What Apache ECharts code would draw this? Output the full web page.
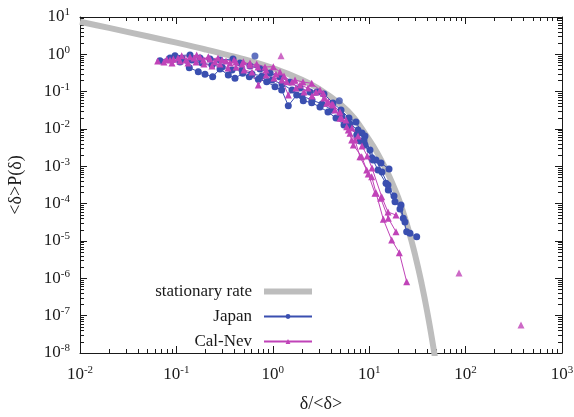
<!DOCTYPE html>
<html>
<head>
<meta charset="utf-8">
<script src="https://cdn.jsdelivr.net/npm/echarts@6/dist/echarts.min.js"></script>
<style>html,body{margin:0;padding:0;background:#fff}#c{width:574px;height:417px}</style>
</head>
<body>
<div id="c"></div>
<script>
// ---- data ----
const stationaryX = [0.01,0.02,0.05,0.1,0.2,0.5,1,2,3,5,7,10,12,15,17.5,20,22.5,25,27.5,30,32.5,35,37.5,40,42.5,45,47.5,50];
const stationaryY = [7.48,5.10,3.05,2.05,1.35,0.739,0.427,0.209,0.1198,0.0464,0.0195,0.0051,2.4e-3,8.0e-4,3.4e-4,1.45e-4,5.91e-5,2.42e-5,9.98e-6,4.13e-6,1.72e-6,7.16e-7,2.99e-7,1.25e-7,5.27e-8,2.22e-8,9.34e-9,3.94e-9];

const japanA = [[0.0676,0.675],[0.0967,0.919],[0.1384,0.959],[0.1757,0.797],[0.2232,0.750],[0.2833,0.705],[0.3865,0.750],[0.4567,0.586],[0.580,0.487],[0.736,0.405],[0.935,0.316],[1.187,0.247],[1.508,0.1815],[1.915,0.1253],[2.431,0.0979],[2.873,0.0979],[3.396,0.0866],[4.21,0.0497],[5.10,0.0323],[6.17,0.0197],[7.29,0.0154],[8.42,0.00781],[9.04,0.00649],[10.95,0.001477],[13.25,0.001227],[16.05,8.48e-4]];
const japanB = [[0.1135,0.783],[0.1361,0.438],[0.1687,0.3424],[0.1980,0.2917],[0.2379,0.2517],[0.2833,0.405],[0.3453,0.2795],[0.4053,0.2280],[0.4872,0.3102],[0.5705,0.2517],[0.707,0.2144],[0.864,0.1848],[1.054,0.1358],[1.236,0.1108],[1.448,0.0421],[1.769,0.0814],[2.071,0.0572],[2.532,0.0506],[3.086,0.0388],[3.737,0.0285],[4.524,0.0197],[5.476,0.0128],[6.32,0.0113],[7.42,0.0069],[8.02,0.00477],[9.04,0.00372],[10.69,0.00167],[12.34,7.97e-4],[14.94,3.51e-4],[15.78,2.32e-4],[18.52,1.13e-4],[21.37,9.2e-5],[22.58,4.05e-5],[24.48,1.77e-5],[26.5,1.61e-5],[31.1,1.30e-5]];
const japanC = [[0.0858,0.797],[0.109,0.623],[0.1451,0.705],[0.1842,0.586],[0.2339,0.518],[0.2972,0.4576],[0.3774,0.3803],[0.479,0.3803],[0.6085,0.2972],[0.7724,0.2628],[0.981,0.2053],[1.245,0.1604],[1.581,0.1108],[2.008,0.0765],[2.55,0.0598],[3.238,0.0467],[4.11,0.0323],[5.22,0.0223],[6.32,0.0136],[7.65,0.0094],[8.83,0.00507],[10.19,0.002736],[11.76,0.001477],[13.57,7.05e-4],[15.66,3.16e-4],[18.08,1.60e-4],[20.86,7.19e-5],[23.5,3.22e-5]];
const japanLoose = [[0.653,0.902],[4.90,0.0572]];

const calnevA = [[0.064,0.663],[0.0793,0.736],[0.0929,0.750],[0.1135,0.919],[0.1384,0.864],[0.1623,0.959],[0.1901,0.705],[0.2142,0.864],[0.2514,0.635],[0.2972,0.705],[0.3597,0.586],[0.4151,0.623],[0.4943,0.635],[0.580,0.518],[0.681,0.551],[0.830,0.4576],[1.012,0.4663],[1.187,0.3362],[1.394,0.1848],[1.699,0.2053],[2.057,0.1815],[2.532,0.1675],[3.086,0.1108],[3.622,0.0488],[4.24,0.0439],[4.98,0.01934],[5.84,0.01151],[6.32,0.00766],[7.12,0.00507],[8.02,0.00181],[9.42,7.97e-4],[10.61,5.27e-4],[11.76,1.96e-4],[14.0,3.81e-5],[17.11,1.06e-5],[20.52,4.86e-6],[24.48,8.11e-7]];
const calnevB = [[0.0743,0.623],[0.090,0.586],[0.109,0.663],[0.1319,0.586],[0.1597,0.623],[0.1933,0.551],[0.2339,0.487],[0.2833,0.551],[0.3428,0.4303],[0.4151,0.4576],[0.5027,0.3803],[0.6085,0.3362],[0.707,0.1508],[0.850,0.2795],[1.029,0.2322],[1.245,0.2053],[1.448,0.0814],[1.740,0.1253],[2.106,0.0979],[2.55,0.0765],[3.341,0.0904],[3.764,0.0538],[4.42,0.0323],[5.18,0.01934],[6.07,0.0094],[6.58,0.00507],[6.84,0.00372],[8.36,0.00181],[9.78,6.22e-4],[11.48,1.89e-4],[13.16,1.39e-4],[15.78,4.05e-5],[18.96,1.77e-5]];
const calnevC = [[0.0858,0.705],[0.1039,0.797],[0.1258,0.705],[0.1522,0.797],[0.1757,0.848],[0.2232,0.750],[0.270,0.797],[0.327,0.663],[0.3958,0.705],[0.479,0.551],[0.580,0.586],[0.702,0.4576],[0.850,0.3803],[1.079,0.2972],[1.306,0.2628],[1.581,0.1815],[1.915,0.1508],[2.317,0.1253],[2.805,0.0979],[3.396,0.0676],[4.11,0.0467],[4.98,0.0285],[5.74,0.0174],[6.63,0.01063],[7.65,0.00649],[8.42,0.0035],[9.55,0.00189],[10.69,9.02e-4],[13.48,1.54e-4],[15.66,5.98e-5],[18.96,4.96e-5]];
const calnevLoose = [[1.216,0.919],[85.4,1.39e-6],[375.4,5.62e-8]];

// axis ranges & tick labels (decade exponents)
const xTickExps = [-2,-1,0,1,2,3];
const yTickExps = [-8,-7,-6,-5,-4,-3,-2,-1,0,1];
const minorMultiples = [2,3,4,5,6,7,8,9];

// ---- build chart ----
const FONT = "'Liberation Serif','Times New Roman',serif";
const BLUE = '#3a4fb0', MAG = '#c043b8', GRAY = '#bdbdbd', INK = '#1a1a1a';

function minorVals(exps){
  const out = [];
  for (let i = 0; i < exps.length - 1; i++)
    minorMultiples.forEach(m => out.push(exps[i] + Math.log10(m)));
  return out;
}
const richLabel = {
  b: {fontSize: 17, fontFamily: FONT, color: INK},
  s: {fontSize: 11, fontFamily: FONT, color: INK, padding: [0,0,9,0]}
};
const fmt = v => '{b|10}{s|' + Math.round(Math.log10(v)) + '}';

function mainAxis(pos, exps, labels){
  return {
    type: 'log', logBase: 10, position: pos,
    min: Math.pow(10, exps[0]), max: Math.pow(10, exps[exps.length-1]),
    interval: 1, splitNumber: exps.length - 1,
    axisLine: {show: true, onZero: false, lineStyle: {color: INK, width: 1}},
    axisTick: {show: true, inside: true, length: 7, lineStyle: {color: INK}},
    axisLabel: labels ? {show: true, formatter: fmt, rich: richLabel, margin: pos === 'bottom' ? 12 : 10} : {show: false},
    splitLine: {show: false}, minorTick: {show: false}
  };
}
function minorAxis(pos, exps){
  return {
    type: 'value', position: pos, min: exps[0], max: exps[exps.length-1],
    axisLine: {show: false, onZero: false},
    axisTick: {show: true, inside: true, length: 4, customValues: minorVals(exps), lineStyle: {color: INK, width: 1}},
    axisLabel: {show: false}, splitLine: {show: false}
  };
}

const xb = mainAxis('bottom', xTickExps, true);
xb.name = 'δ/<δ>'; xb.nameLocation = 'middle'; xb.nameGap = 42;
xb.nameTextStyle = {fontFamily: FONT, fontSize: 18, color: INK};
const yl = mainAxis('left', yTickExps, true);
yl.name = '<δ>P(δ)'; yl.nameLocation = 'middle'; yl.nameGap = 55;
yl.nameTextStyle = {fontFamily: FONT, fontSize: 18, color: INK};

const lineSeries = (name, data, color, symbol) => ({
  name, type: 'line', data, xAxisIndex: 0, yAxisIndex: 0,
  symbol, symbolSize: 7, showSymbol: true,
  lineStyle: {color, width: 1}, itemStyle: {color}, z: 3, animation: false
});
const looseSeries = (name, data, color, symbol) => ({
  name, type: 'scatter', data, xAxisIndex: 0, yAxisIndex: 0,
  symbol, symbolSize: 7, itemStyle: {color}, z: 3, animation: false
});

const option = {
  animation: false,
  backgroundColor: '#ffffff',
  grid: {left: 80, right: 12, top: 17, bottom: 64, containLabel: false, outerBoundsMode: 'none'},
  xAxis: [xb, mainAxis('top', xTickExps, false), minorAxis('bottom', xTickExps), minorAxis('top', xTickExps)],
  yAxis: [yl, mainAxis('right', yTickExps, false), minorAxis('left', yTickExps), minorAxis('right', yTickExps)],
  legend: {
    orient: 'vertical', align: 'right', right: 261, top: 283, padding: 0,
    itemWidth: 48, itemHeight: 6, itemGap: 8,
    textStyle: {fontFamily: FONT, fontSize: 17, color: INK, padding: [0, 7, 0, 0]},
    data: [{name: 'stationary rate', icon: 'rect', itemStyle: {color: GRAY}}, 'Japan', 'Cal-Nev']
  },
  series: [
    {name: 'stationary rate', type: 'line', data: stationaryX.map((x, i) => [x, stationaryY[i]]),
     symbol: 'none', smooth: 0.3, clip: true, lineStyle: {color: GRAY, width: 6}, itemStyle: {color: GRAY}, z: 1},
    lineSeries('Japan', japanA, BLUE, 'circle'),
    lineSeries('Japan', japanB, BLUE, 'circle'),
    lineSeries('Japan', japanC, BLUE, 'circle'),
    looseSeries('Japan', japanLoose, BLUE, 'circle'),
    lineSeries('Cal-Nev', calnevA, MAG, 'triangle'),
    lineSeries('Cal-Nev', calnevB, MAG, 'triangle'),
    lineSeries('Cal-Nev', calnevC, MAG, 'triangle'),
    looseSeries('Cal-Nev', calnevLoose, MAG, 'triangle')
  ]
};
const chart = echarts.init(document.getElementById('c'), null, {renderer: 'canvas'});
chart.setOption(option);
</script>
</body>
</html>
